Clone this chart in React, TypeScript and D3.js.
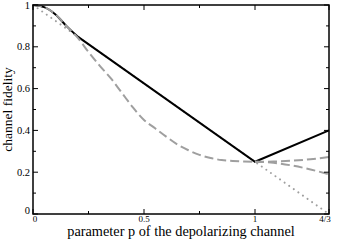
import React from "react";
import * as d3 from "d3";

// values
const pGrid = [0, 0.05, 0.1, 0.15, 0.2, 0.25, 0.3, 0.35, 0.4, 0.45, 0.5, 0.55, 0.6, 0.65, 0.7, 0.75, 0.8, 0.85, 0.9, 0.95, 1];
const dashedF = [1, 0.99, 0.956, 0.9, 0.845, 0.775, 0.71, 0.65, 0.58, 0.51, 0.45, 0.41, 0.37, 0.333, 0.305, 0.283, 0.268, 0.258, 0.254, 0.251, 0.25];
const pTail = [1, 1.0833, 1.1667, 1.25, 1.3333];
const dashedUpperTail = [0.25, 0.251, 0.255, 0.262, 0.273];
const dashedLowerTail = [0.25, 0.245, 0.232, 0.213, 0.19];
// solid black: rounded start, then straight pieces
const blackHeadP = [0, 0.05, 0.1, 0.15, 0.2];
const blackHeadF = [1, 0.99, 0.956, 0.9, 0.85];
const blackBodyP = [0.2, 1, 1.3333];
const blackBodyF = [0.85, 0.25, 0.4];
const dottedP = [0, 1, 1.3333];
const dottedF = [1, 0.25, 0];

const xTicks = [0, 0.5, 1, 4 / 3];
const xTickLabels = ["0", "0.5", "1", "4/3"];
const xMinor = [0.25, 0.75];
const yTicks = [0, 0.2, 0.4, 0.6, 0.8, 1];
const yTickLabels = ["0", "0.2", "0.4", "0.6", "0.8", "1"];
const yMinor = [0.1, 0.3, 0.5, 0.7, 0.9];

const W = 338;
const H = 243;
const m = { left: 33, right: 9, top: 5, bottom: 29 };
const GRAY = "#9f9f9f";
const font = "Liberation Serif, DejaVu Serif, Times New Roman, serif";

export default function App() {
  const x = d3.scaleLinear().domain([0, 4 / 3]).range([m.left, W - m.right]);
  const y = d3.scaleLinear().domain([0, 1]).range([H - m.bottom, m.top]);

  const smooth = d3
    .line<[number, number]>()
    .x((d) => x(d[0]))
    .y((d) => y(d[1]))
    .curve(d3.curveMonotoneX);
  const straight = d3
    .line<[number, number]>()
    .x((d) => x(d[0]))
    .y((d) => y(d[1]));

  const zip = (a: number[], b: number[]) => a.map((v, i) => [v, b[i]] as [number, number]);

  const x0 = x(0), x1 = x(4 / 3), y0 = y(0), y1 = y(1);
  const txt = { fontFamily: font };

  return (
    <div style={{ position: "fixed", left: 0, top: 0 }}>
      <svg width={W} height={H} style={{ display: "block", background: "#fff" }}>
        {/* curves */}
        <path d={straight(zip(dottedP, dottedF)) || ""} fill="none" stroke={GRAY} strokeWidth={2} strokeDasharray="0.1,5.5" strokeLinecap="round" />
        <path d={smooth(zip(blackHeadP, blackHeadF)) || ""} fill="none" stroke="#000" strokeWidth={2} />
        <path d={straight(zip(blackBodyP, blackBodyF)) || ""} fill="none" stroke="#000" strokeWidth={2} strokeLinejoin="miter" />
        <path d={smooth(zip(pGrid, dashedF)) || ""} fill="none" stroke={GRAY} strokeWidth={2} strokeDasharray="9,4" />
        <path d={smooth(zip(pTail, dashedUpperTail)) || ""} fill="none" stroke={GRAY} strokeWidth={2} strokeDasharray="9,4" />
        <path d={smooth(zip(pTail, dashedLowerTail)) || ""} fill="none" stroke={GRAY} strokeWidth={2} strokeDasharray="9,4" />

        {/* frame */}
        <rect x={x0} y={y1} width={x1 - x0} height={y0 - y1} fill="none" stroke="#000" strokeWidth={1.5} />

        {/* x ticks */}
        {xTicks.map((t) => (
          <g key={"xt" + t}>
            <line x1={x(t)} x2={x(t)} y1={y0} y2={y0 - 5} stroke="#000" strokeWidth={1} />
            <line x1={x(t)} x2={x(t)} y1={y1} y2={y1 + 5} stroke="#000" strokeWidth={1} />
          </g>
        ))}
        {xMinor.map((t) => (
          <g key={"xm" + t}>
            <line x1={x(t)} x2={x(t)} y1={y0} y2={y0 - 3} stroke="#000" strokeWidth={1} />
            <line x1={x(t)} x2={x(t)} y1={y1} y2={y1 + 3} stroke="#000" strokeWidth={1} />
          </g>
        ))}
        {/* y ticks */}
        {yTicks.map((t) => (
          <g key={"yt" + t}>
            <line x1={x0} x2={x0 + 5} y1={y(t)} y2={y(t)} stroke="#000" strokeWidth={1} />
            <line x1={x1} x2={x1 - 5} y1={y(t)} y2={y(t)} stroke="#000" strokeWidth={1} />
          </g>
        ))}
        {yMinor.map((t) => (
          <g key={"ym" + t}>
            <line x1={x0} x2={x0 + 3} y1={y(t)} y2={y(t)} stroke="#000" strokeWidth={1} />
            <line x1={x1} x2={x1 - 3} y1={y(t)} y2={y(t)} stroke="#000" strokeWidth={1} />
          </g>
        ))}

        {/* tick labels */}
        {xTicks.map((t, i) => (
          <text key={"xl" + i} x={x(t) + (i === 0 ? 2 : i === xTicks.length - 1 ? -4 : 0)} y={y0 + 8} style={txt} fontSize={9} textAnchor="middle">
            {xTickLabels[i]}
          </text>
        ))}
        {yTicks.map((t, i) => (
          <text key={"yl" + i} x={x0 - 3} y={y(t) + (i === 0 ? 0 : 3.5)} style={txt} fontSize={10.5} textAnchor="end">
            {yTickLabels[i]}
          </text>
        ))}

        {/* axis titles */}
        <text x={(x0 + x1) / 2} y={H - 7} style={txt} fontSize={14.3} textAnchor="middle">
          parameter p of the depolarizing channel
        </text>
        <text transform={`translate(12,${(y0 + y1) / 2}) rotate(-90)`} style={txt} fontSize={13.5} textAnchor="middle">
          channel fidelity
        </text>
      </svg>
    </div>
  );
}
